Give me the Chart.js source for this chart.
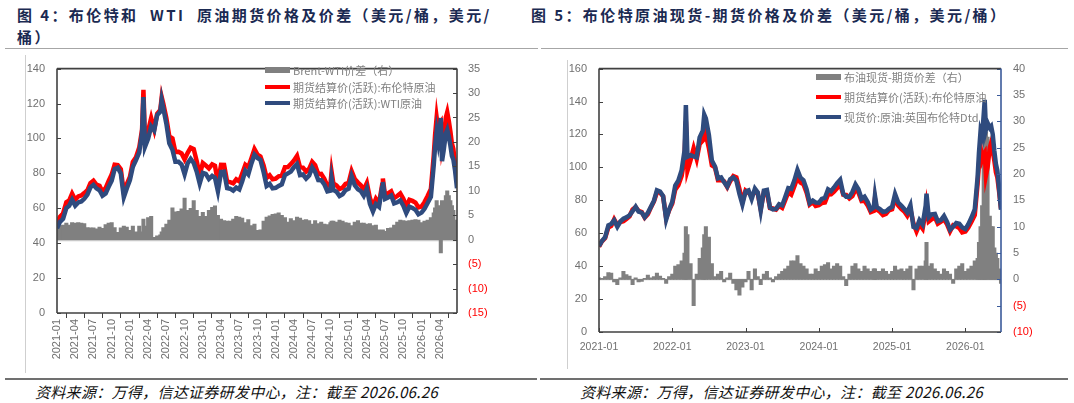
<!DOCTYPE html>
<html><head><meta charset="utf-8">
<script src="https://cdn.jsdelivr.net/npm/chart.js@4.4.0/dist/chart.umd.min.js"></script>
<style>
html,body{margin:0;padding:0;background:#fff;width:1074px;height:403px;overflow:hidden;position:relative;font-family:"Noto Sans CJK SC",sans-serif;}
.title{position:absolute;font-weight:bold;color:#1b2a52;font-size:15px;letter-spacing:2.4px;line-height:22px;white-space:nowrap;}
.hline{position:absolute;height:0;border-top:1px solid #a6a6a6;}
.fline{position:absolute;height:0;border-top:2px solid #707070;}
.vline{position:absolute;width:0;border-left:1px solid #cfcfcf;}
.foot{position:absolute;font-style:italic;font-size:15px;letter-spacing:0.3px;color:#111;white-space:nowrap;line-height:18px;}
canvas{position:absolute;}
.legend{position:absolute;font-size:11px;color:#808080;white-space:nowrap;}
.legend .row{display:flex;align-items:center;}
.legend .sw{display:inline-block;width:25px;margin-right:3px;}
</style></head>
<body>
<div class="title" style="left:17px;top:4px;">图 4：布伦特和&nbsp; WTI&nbsp; 原油期货价格及价差（美元/桶，美元/<br>桶）</div>
<div class="title" style="left:531px;top:4px;">图 5：布伦特原油现货-期货价格及价差（美元/桶，美元/桶）</div>
<div class="hline" style="left:5px;top:48px;width:533px;"></div>
<div class="hline" style="left:541px;top:48px;width:527px;"></div>
<div class="vline" style="left:25px;top:55px;height:318px;"></div>
<div class="vline" style="left:567px;top:60px;height:309px;"></div>
<canvas id="c1" width="540" height="320" style="left:0;top:50px;width:540px;height:320px;"></canvas>
<canvas id="c2" width="534" height="320" style="left:540px;top:50px;width:534px;height:320px;"></canvas>
<div class="legend" id="lg1" style="left:265px;top:62px;"></div>
<div class="legend" id="lg2" style="left:816px;top:67px;"></div>
<div class="fline" style="left:5px;top:378px;width:532px;"></div>
<div class="fline" style="left:540px;top:378px;width:528px;"></div>
<div class="foot" style="left:35px;top:383px;">资料来源：万得，信达证券研发中心，注：截至 2026.06.26</div>
<div class="foot" style="left:580px;top:383px;">资料来源：万得，信达证券研发中心，注：截至 2026.06.26</div>
<script>
// ---------- DATA ----------
const dates = [
 '2021-01-01','2021-01-16','2021-02-01','2021-02-16','2021-03-01','2021-03-16','2021-04-01','2021-04-16','2021-05-01','2021-05-16','2021-06-01','2021-06-16',
 '2021-07-01','2021-07-16','2021-08-01','2021-08-16','2021-09-01','2021-09-16','2021-10-01','2021-10-16','2021-11-01','2021-11-16','2021-12-01','2021-12-16',
 '2022-01-01','2022-01-16','2022-02-01','2022-02-16','2022-03-01','2022-03-08','2022-03-16','2022-04-01','2022-04-16','2022-05-01','2022-05-16','2022-06-01','2022-06-08','2022-06-16',
 '2022-07-01','2022-07-16','2022-08-01','2022-08-16','2022-09-01','2022-09-16','2022-10-01','2022-10-16','2022-11-01','2022-11-16','2022-12-01','2022-12-16',
 '2023-01-01','2023-01-16','2023-02-01','2023-02-16','2023-03-01','2023-03-16','2023-04-01','2023-04-16','2023-05-01','2023-05-16','2023-06-01','2023-06-16',
 '2023-07-01','2023-07-16','2023-08-01','2023-08-16','2023-09-01','2023-09-16','2023-10-01','2023-10-16','2023-11-01','2023-11-16','2023-12-01','2023-12-16',
 '2024-01-01','2024-01-16','2024-02-01','2024-02-16','2024-03-01','2024-03-16','2024-04-01','2024-04-16','2024-05-01','2024-05-16','2024-06-01','2024-06-16',
 '2024-07-01','2024-07-16','2024-08-01','2024-08-16','2024-09-01','2024-09-16','2024-10-01','2024-10-07','2024-10-16','2024-11-01','2024-11-16','2024-12-01','2024-12-16',
 '2025-01-01','2025-01-16','2025-02-01','2025-02-16','2025-03-01','2025-03-16','2025-04-01','2025-04-16','2025-05-01','2025-05-16','2025-06-01','2025-06-16','2025-06-20',
 '2025-07-01','2025-07-16','2025-08-01','2025-08-16','2025-09-01','2025-09-16','2025-10-01','2025-10-16','2025-11-01','2025-11-16','2025-12-01','2025-12-16',
 '2026-01-01','2026-01-16','2026-02-01','2026-02-16','2026-03-01','2026-03-08','2026-03-16','2026-03-24','2026-04-01','2026-04-06','2026-04-12','2026-04-20',
 '2026-05-01','2026-05-08','2026-05-16','2026-05-24','2026-06-01','2026-06-08','2026-06-16','2026-06-26'
];
// 期货结算价(活跃):布伦特原油
const brentFut = [
 51.8,55.1,57.0,63.5,64.4,68.4,64.9,66.8,67.3,68.7,70.3,74.4,75.8,73.6,72.9,69.5,71.6,75.7,79.3,84.9,84.7,82.4,69.2,73.9,
 78.0,86.5,89.2,94.8,105.0,127.9,98.0,104.4,111.7,105.1,114.2,116.3,123.6,119.8,111.6,101.2,100.0,92.3,92.4,91.4,88.0,91.6,94.7,93.9,86.9,79.0,
 85.9,84.5,82.8,85.1,84.3,74.7,84.9,84.8,75.3,75.0,74.3,76.6,75.4,79.9,84.9,83.5,88.6,93.9,90.7,89.7,84.6,77.4,78.9,76.6,
 77.0,78.3,78.7,83.5,83.6,85.3,87.4,90.0,83.4,83.3,81.1,82.6,86.6,84.7,79.5,79.7,76.9,72.8,73.6,80.9,74.3,73.1,71.0,71.8,73.9,
 74.6,81.3,76.8,74.7,73.2,70.6,74.5,65.8,61.1,65.4,62.8,73.2,77.0,67.1,68.5,69.7,65.8,67.0,68.5,65.4,61.1,64.8,64.2,63.2,60.5,
 61.0,63.5,67.0,71.0,90.0,102.0,112.0,105.0,108.0,109.0,95.0,100.0,112.0,115.0,110.0,104.0,97.0,94.0,86.0,75.0
];
// 期货结算价(活跃):WTI原油
const wtiFut = [
 48.5,52.2,54.0,60.1,61.4,64.9,61.5,63.3,63.9,65.4,67.8,72.0,73.4,71.4,70.3,67.2,68.5,72.3,75.8,82.4,83.2,80.0,66.4,71.3,
 76.1,83.7,87.6,92.0,103.4,123.7,95.2,99.9,106.9,104.6,113.4,115.3,122.0,117.3,108.4,97.2,93.5,86.6,86.6,85.1,79.5,85.6,88.3,85.9,80.9,74.2,
 80.3,79.7,76.8,78.5,77.4,69.7,80.7,80.9,71.5,71.2,70.1,71.8,70.8,75.5,81.4,79.4,85.7,90.7,88.8,87.7,80.8,72.8,74.0,71.4,
 71.7,72.8,73.7,79.0,80.0,81.0,83.5,85.4,79.0,79.3,77.0,78.7,83.4,80.8,76.2,76.1,73.7,69.7,70.1,77.1,70.5,69.5,67.0,68.0,70.4,
 71.2,78.4,73.2,70.8,69.8,67.2,71.3,62.5,58.2,62.4,60.8,71.8,75.0,65.4,66.2,67.3,62.8,63.4,64.5,61.5,57.3,60.9,60.2,59.1,56.5,
 57.5,59.7,63.0,66.5,84.5,95.5,104.0,98.0,105.0,111.7,87.0,93.0,103.0,105.0,101.0,96.0,90.0,88.0,82.0,71.5
];
// Brent-WTI价差（右）
const brentWtiSpread = [
 3.3,2.9,3.0,3.4,3.0,3.5,3.4,3.5,3.4,3.3,2.5,2.4,2.4,2.2,2.6,2.3,3.1,3.4,3.5,2.5,1.5,2.4,2.8,2.6,
 1.9,2.8,1.6,2.8,1.6,4.2,2.8,4.5,4.8,0.5,0.8,1.0,1.6,2.5,3.2,4.0,6.5,5.7,5.8,6.3,8.5,6.0,6.4,8.0,6.0,4.8,
 5.6,4.8,6.0,6.6,6.9,5.0,4.2,3.9,3.8,3.8,4.2,4.8,4.6,4.4,3.5,4.1,2.9,3.2,1.9,2.0,3.8,4.6,4.9,5.2,
 5.3,5.5,5.0,4.5,3.6,4.3,3.9,4.6,4.4,4.0,4.1,3.9,3.2,3.9,3.3,3.6,3.2,3.1,3.5,3.8,3.8,3.6,4.0,3.8,3.5,
 3.4,2.9,3.6,3.9,3.4,3.4,3.2,3.3,2.9,3.0,2.0,1.4,2.0,1.7,2.3,2.4,3.0,3.6,4.0,3.9,3.8,3.9,4.0,4.1,4.0,
 3.5,3.8,4.0,4.5,5.5,6.5,8.0,7.0,3.0,-2.7,8.0,7.0,9.0,10.0,9.0,8.0,7.0,6.0,4.0,3.5
];
// 现货价:原油:英国布伦特Dtd
const brentDtd = [
 52.1,55.3,57.5,64.8,65.6,67.9,63.9,67.1,68.8,69.6,70.9,73.4,76.1,73.1,72.5,69.7,72.4,76.0,79.8,86.1,85.3,82.6,68.4,74.4,
 79.0,89.0,92.0,98.3,110.0,137.9,106.5,107.4,106.7,106.1,118.2,122.3,132.1,129.8,119.6,104.2,100.5,93.3,93.9,90.9,88.3,92.8,93.9,91.9,83.9,77.5,
 85.4,86.0,80.8,87.1,84.8,73.7,85.9,86.3,75.6,74.5,74.8,77.6,76.9,81.9,87.4,87.0,92.1,98.4,93.7,92.2,86.6,78.4,79.9,78.6,
 78.5,80.8,81.5,86.7,85.6,87.8,90.4,92.5,83.9,82.1,82.1,85.1,89.6,86.7,81.0,82.2,78.9,74.3,75.6,82.9,75.8,74.6,73.0,73.3,74.9,
 76.1,83.8,78.6,76.7,74.7,72.6,77.0,63.8,63.1,67.9,65.3,76.7,84.0,69.6,71.5,71.7,67.3,68.0,70.5,66.9,62.1,64.0,66.2,65.7,63.5,
 62.5,65.5,69.5,74.5,94.0,109.0,122.0,119.0,132.0,141.0,123.0,127.0,124.0,125.0,120.0,110.0,102.0,98.0,88.0,74.2
];
// 布油现货-期货价差（右）
const spotFutSpread = [
 0.3,0.2,0.5,1.3,1.2,-0.5,-1.0,0.3,1.5,0.9,0.6,-1.0,0.3,-0.5,-0.4,0.2,0.8,0.3,0.5,1.2,0.6,0.2,-0.8,0.5,
 1.0,2.5,2.8,3.5,5.0,10.0,8.5,3.0,-5.0,1.0,4.0,6.0,8.5,10.0,8.0,3.0,0.5,1.0,1.5,-0.5,0.3,1.2,-0.8,-2.0,-3.0,-1.5,
 -0.5,1.5,-2.0,2.0,0.5,-1.0,1.0,1.5,0.3,-0.5,0.5,1.0,1.5,2.0,2.5,3.5,3.5,4.5,3.0,2.5,2.0,1.0,1.0,2.0,
 1.5,2.5,2.8,3.2,2.0,2.5,3.0,2.5,0.5,-1.2,1.0,2.5,3.0,2.0,1.5,2.5,2.0,1.5,2.0,2.0,1.5,1.5,2.0,1.5,1.0,
 1.5,2.5,1.8,2.0,1.5,2.0,2.5,-2.0,2.0,2.5,2.5,3.5,7.0,2.5,3.0,2.0,1.5,1.0,2.0,1.5,1.0,-0.8,2.0,2.5,3.0,
 1.5,2.0,2.5,3.5,4.0,7.0,10.0,14.0,24.0,32.0,28.0,27.0,12.0,10.0,10.0,6.0,5.0,4.0,2.0,-0.8
];
const xTickLabels1 = ['2021-01','2021-04','2021-07','2021-10','2022-01','2022-04','2022-07','2022-10','2023-01','2023-04','2023-07','2023-10',
 '2024-01','2024-04','2024-07','2024-10','2025-01','2025-04','2025-07','2025-10','2026-01','2026-04'];
const xTickLabels2 = ['2021-01','2022-01','2023-01','2024-01','2025-01','2026-01'];
const endDate = '2026-06-26';
const labels1 = ['Brent-WTI价差（右）','期货结算价(活跃):布伦特原油','期货结算价(活跃):WTI原油'];
const labels2 = ['布油现货-期货价差（右）','期货结算价(活跃):布伦特原油','现货价:原油:英国布伦特Dtd'];

// ---------- HELPERS ----------
function monthPos(s){
  const p = s.split('-').map(Number);
  const y = p[0], m = p[1], d = p[2] || 1;
  const dim = new Date(y, m, 0).getDate();
  return (y - 2021) * 12 + (m - 1) + (d - 1) / dim;
}
const xs = dates.map(monthPos);
const pts = arr => arr.map((v, i) => ({x: xs[i], y: v}));
const RED = '#ff0000', BLUE = '#2f4b7e', GRAY = '#808080', TXT = '#707070';
Chart.defaults.font.family = '"Liberation Sans", Arial, sans-serif';
Chart.defaults.font.size = 11;
Chart.defaults.color = TXT;

const framePlugin = {
  id: 'frame',
  beforeDatasetsDraw(chart, args, o) {
    const {ctx, chartArea: a} = chart;
    const y0 = Math.round(chart.scales.y2.getPixelForValue(0)) + 0.5;
    ctx.save(); ctx.strokeStyle = '#c8c8c8'; ctx.lineWidth = 1.5;
    ctx.beginPath(); ctx.moveTo(a.left, y0); ctx.lineTo(a.right, y0); ctx.stroke(); ctx.restore();
  },
  afterDatasetsDraw(chart, args, o) {
    const {ctx, chartArea: a, scales} = chart;
    const L = 4;
    ctx.save();
    ctx.lineWidth = 1;
    const seg = (x1, y1, x2, y2, c) => { ctx.strokeStyle = c; ctx.beginPath(); ctx.moveTo(x1, y1); ctx.lineTo(x2, y2); ctx.stroke(); };
    scales.y.ticks.forEach(t => { const p = Math.round(scales.y.getPixelForValue(t.value)) + 0.5; seg(a.left, p, a.left + L, p, o.left); });
    scales.y2.ticks.forEach(t => { const p = Math.round(scales.y2.getPixelForValue(t.value)) + 0.5; seg(a.right - L, p, a.right, p, o.right); });
    if (o.xInside) scales.x.ticks.forEach(t => { const p = Math.round(scales.x.getPixelForValue(t.value)) + 0.5; seg(p, a.bottom, p, a.bottom - L, o.bottom); });
    ctx.lineWidth = 1.6;
    seg(a.left, a.top, a.right, a.top, o.top);
    seg(a.left, a.bottom, a.right, a.bottom, o.bottom);
    seg(a.left, a.top, a.left, a.bottom, o.left);
    seg(a.right, a.top, a.right, a.bottom, o.right);
    ctx.restore();
  }
};

function buildLegend(el, chart) {
  chart.data.datasets.forEach(ds => {
    const row = document.createElement('div'); row.className = 'row'; row.style.height = el.dataset.rh + 'px';
    const sw = document.createElement('span'); sw.className = 'sw';
    const col = ds.type === 'bar' ? ds.backgroundColor : ds.borderColor;
    sw.style.height = (ds.type === 'bar' ? 6 : 4) + 'px'; sw.style.background = col;
    const tx = document.createElement('span'); tx.textContent = ds.label;
    row.appendChild(sw); row.appendChild(tx); el.appendChild(row);
  });
}

function makeChart(id, cfg) {
  const xmax = monthPos(endDate);
  return new Chart(document.getElementById(id), {
    data: {
      datasets: [
        {type: 'bar', label: cfg.labels[0], data: pts(cfg.bars), yAxisID: 'y2', backgroundColor: GRAY, borderWidth: 0, barThickness: cfg.barT, order: 3},
        {type: 'line', label: cfg.labels[1], data: pts(cfg.red), yAxisID: 'y', borderColor: RED, backgroundColor: RED, borderWidth: 4.5, pointRadius: 0, tension: 0, order: 2},
        {type: 'line', label: cfg.labels[2], data: pts(cfg.blue), yAxisID: 'y', borderColor: BLUE, backgroundColor: BLUE, borderWidth: 4.5, pointRadius: 0, tension: 0, order: 1}
      ]
    },
    options: {
      responsive: false, animation: false, devicePixelRatio: 1,
      layout: {padding: {top: cfg.padTop, left: 0, right: 0, bottom: 0}},
      plugins: {legend: {display: false}, tooltip: {enabled: false}, frame: cfg.frame},
      scales: {
        x: {
          type: 'linear', min: 0, max: xmax, offset: false,
          afterBuildTicks: s => { s.ticks = cfg.xLabels.map(l => ({value: monthPos(l)})); },
          ticks: {autoSkip: false, minRotation: cfg.rot, maxRotation: cfg.rot, padding: cfg.xPad, color: TXT,
                  font: {size: cfg.xFont}, callback: (v, i) => cfg.xLabels[i]},
          grid: cfg.xGrid,
          border: {display: false},
          afterFit: s => { s.height = cfg.xH; }
        },
        y: {
          position: 'left', min: cfg.yMin, max: cfg.yMax,
          ticks: {stepSize: cfg.yStep, padding: 12, color: TXT},
          grid: {display: false, drawTicks: false}, border: {display: false},
          afterFit: s => { s.width = cfg.yW; }
        },
        y2: {
          position: 'right', min: cfg.y2Min, max: cfg.y2Max,
          ticks: {stepSize: 5, padding: cfg.y2Pad,
                  callback: v => v < 0 ? '(' + (-v) + ')' : String(v),
                  color: c => c.tick && c.tick.value < 0 ? RED : TXT},
          grid: {display: false, drawTicks: false}, border: {display: false},
          afterFit: s => { s.width = cfg.y2W; }
        }
      }
    },
    plugins: [framePlugin]
  });
}

const chart1 = makeChart('c1', {
  labels: labels1, bars: brentWtiSpread, red: brentFut, blue: wtiFut, barT: 3.4,
  padTop: 12, xLabels: xTickLabels1, rot: 90, xPad: 1, xFont: 11, xH: 57,
  xGrid: {display: true, drawOnChartArea: false, drawTicks: true, tickLength: 5, color: '#404040', lineWidth: 1},
  yMin: 0, yMax: 140, yStep: 20, yW: 57, y2Min: -15, y2Max: 35, y2Pad: 11, y2W: 83,
  frame: {top: '#404040', bottom: '#404040', left: '#404040', right: '#404040', xInside: false}
});
const chart2 = makeChart('c2', {
  labels: labels2, bars: spotFutSpread, red: brentFut, blue: brentDtd, barT: 3.4,
  padTop: 16, xLabels: xTickLabels2, rot: 0, xPad: 9, xFont: 10.5, xH: 38,
  xGrid: {display: false, drawTicks: false},
  yMin: 0, yMax: 160, yStep: 20, yW: 59, y2Min: -10, y2Max: 40, y2Pad: 12, y2W: 73,
  frame: {top: '#404040', bottom: '#404040', left: '#404040', right: '#3a5a9a', xInside: true}
});
const lg1 = document.getElementById('lg1'); lg1.dataset.rh = 16.6; buildLegend(lg1, chart1);
const lg2 = document.getElementById('lg2'); lg2.dataset.rh = 20; buildLegend(lg2, chart2);
</script>
</body></html>
